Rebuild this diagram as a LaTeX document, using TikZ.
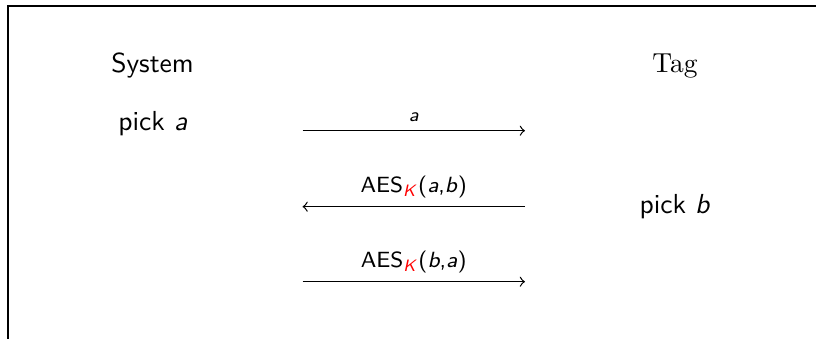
\documentclass[tikz,border=0pt]{standalone}
\usepackage{xcolor}
\begin{document}
\begin{tikzpicture}[x=0.3636pt,y=-0.3636pt,
  party/.style={font=\sffamily, anchor=base, inner sep=0pt},
  msg/.style={line width=0.45pt, ->, >=to},
  msglabel/.style={font=\sffamily\footnotesize, above, inner sep=3pt},
  framestyle/.style={line width=0.75pt}]
\useasboundingbox (0,0) rectangle (816,339);
\coordinate (fb) at (8,345);
\coordinate (fc) at (8,6);
\coordinate (fr) at (820,6);
\draw[framestyle] (fb) -- (fc) -- (fr);
\node[party] (sys) at (152.5,72) {System};
\node[party, font=\rmfamily] (tag) at (675,72) {Tag};
\node[party] (picka) at (153,130) {pick \textit{a}};
\node[party] (pickb) at (675,213) {pick \textit{b}};
\coordinate (s1) at (302.5,130.7);
\coordinate (t1) at (525,130.7);
\coordinate (s2) at (302.5,206.7);
\coordinate (t2) at (525,206.7);
\coordinate (s3) at (302.5,281.7);
\coordinate (t3) at (525,281.7);
\draw[msg] (s1) -- (t1) node[msglabel, midway, font=\sffamily\scriptsize] (l1) {\textit{a}};
\draw[msg] (t2) -- (s2) node[msglabel, midway] (l2) {AES\textsubscript{\textcolor{red}{\textit{K}}}(\textit{a},\textit{b})};
\draw[msg] (s3) -- (t3) node[msglabel, midway] (l3) {AES\textsubscript{\textcolor{red}{\textit{K}}}(\textit{b},\textit{a})};
\end{tikzpicture}
\end{document}
